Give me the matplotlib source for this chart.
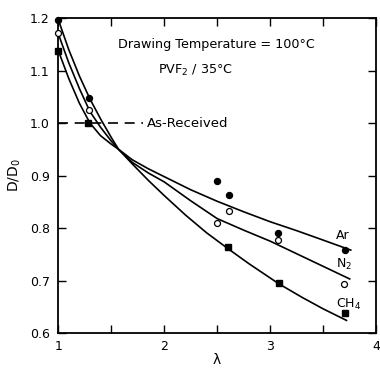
import numpy as np
import matplotlib
matplotlib.use('Agg')
import matplotlib.pyplot as plt
from matplotlib.ticker import MultipleLocator, FixedLocator

# measured points (lambda, D/D0)
ar_x = [1.0, 1.29, 2.50, 2.61, 3.07, 3.71]
ar_y = [1.196, 1.047, 0.890, 0.863, 0.791, 0.759]
n2_x = [1.0, 1.29, 2.50, 2.61, 3.07, 3.70]
n2_y = [1.171, 1.025, 0.809, 0.833, 0.777, 0.693]
ch4_x = [1.0, 1.28, 2.60, 3.08, 3.71]
ch4_y = [1.138, 1.001, 0.764, 0.696, 0.639]

# hand drawn curves
ar_cx = [1.0, 1.1, 1.2, 1.3, 1.4, 1.5, 1.57, 1.7, 1.85, 2.0, 2.25, 2.5, 2.75, 3.0, 3.25, 3.5, 3.76]
ar_cy = [1.198, 1.14, 1.09, 1.046, 1.008, 0.973, 0.950, 0.930, 0.913, 0.898, 0.873, 0.851, 0.831, 0.812, 0.795, 0.777, 0.758]
n2_cx = [1.0, 1.1, 1.2, 1.3, 1.4, 1.5, 1.57, 1.7, 1.85, 2.0, 2.25, 2.5, 2.75, 3.0, 3.25, 3.5, 3.75]
n2_cy = [1.171, 1.115, 1.066, 1.022, 0.992, 0.966, 0.950, 0.925, 0.905, 0.888, 0.852, 0.818, 0.796, 0.775, 0.751, 0.727, 0.703]
ch4_cx = [1.0, 1.1, 1.2, 1.3, 1.4, 1.5, 1.57, 1.7, 1.85, 2.0, 2.2, 2.4, 2.6, 2.8, 3.08, 3.3, 3.5, 3.72]
ch4_cy = [1.139, 1.085, 1.038, 1.0, 0.976, 0.960, 0.950, 0.922, 0.891, 0.862, 0.825, 0.791, 0.761, 0.732, 0.694, 0.668, 0.646, 0.624]

baseline_x = [1.0, 1.8]
baseline_y = [1.0, 1.0]

xticks = [1, 2, 3, 4]
yticks = [0.6, 0.7, 0.8, 0.9, 1.0, 1.1, 1.2]

fig = plt.figure(figsize=(3.8, 3.7), dpi=100)
ax = fig.add_axes([0.153, 0.10, 0.837, 0.851])

lw = 1.2
ax.plot(ar_cx, ar_cy, color='black', lw=lw)
ax.plot(n2_cx, n2_cy, color='black', lw=lw)
ax.plot(ch4_cx, ch4_cy, color='black', lw=lw)

ax.plot(ar_x, ar_y, 'o', color='black', ms=4.3, clip_on=False, zorder=5)
ax.plot(n2_x, n2_y, 'o', mfc='white', mec='black', mew=0.9, ms=4.3, clip_on=False, zorder=5)
ax.plot(ch4_x, ch4_y, 's', color='black', ms=4.3, clip_on=False, zorder=5)

ax.plot(baseline_x, baseline_y, color='black', lw=lw, dashes=(6, 4))
ax.text(1.84, 1.0, 'As-Received', fontsize=9.5, va='center', ha='left')

ax.text(2.495, 1.149, 'Drawing Temperature = 100°C', fontsize=9.2, ha='center', va='center')
ax.text(2.30, 1.101, 'PVF$_2$ / 35°C', fontsize=9.2, ha='center', va='center')

ax.text(3.62, 0.786, 'Ar', fontsize=9, ha='left', va='center')
ax.text(3.62, 0.731, 'N$_2$', fontsize=9, ha='left', va='center')
ax.text(3.62, 0.654, 'CH$_4$', fontsize=9, ha='left', va='center')

ax.set_xlim(1, 4)
ax.set_ylim(0.6, 1.2)
ax.xaxis.set_major_locator(FixedLocator(xticks))
ax.xaxis.set_minor_locator(MultipleLocator(0.5))
ax.yaxis.set_major_locator(FixedLocator(yticks))
ax.set_xticklabels([str(t) for t in xticks])
ax.set_yticklabels(['%.1f' % t for t in yticks])

ax.tick_params(which='both', direction='in', top=True, right=True, length=6, width=1, labelsize=9)
ax.tick_params(axis='y', pad=6)
ax.tick_params(axis='x', pad=5)
for s in ax.spines.values():
    s.set_linewidth(1.3)

ax.set_xlabel('λ', fontsize=10, labelpad=0)
ax.set_ylabel('D/D$_0$', fontsize=10, labelpad=5)

fig.savefig('out.png', dpi=100)
